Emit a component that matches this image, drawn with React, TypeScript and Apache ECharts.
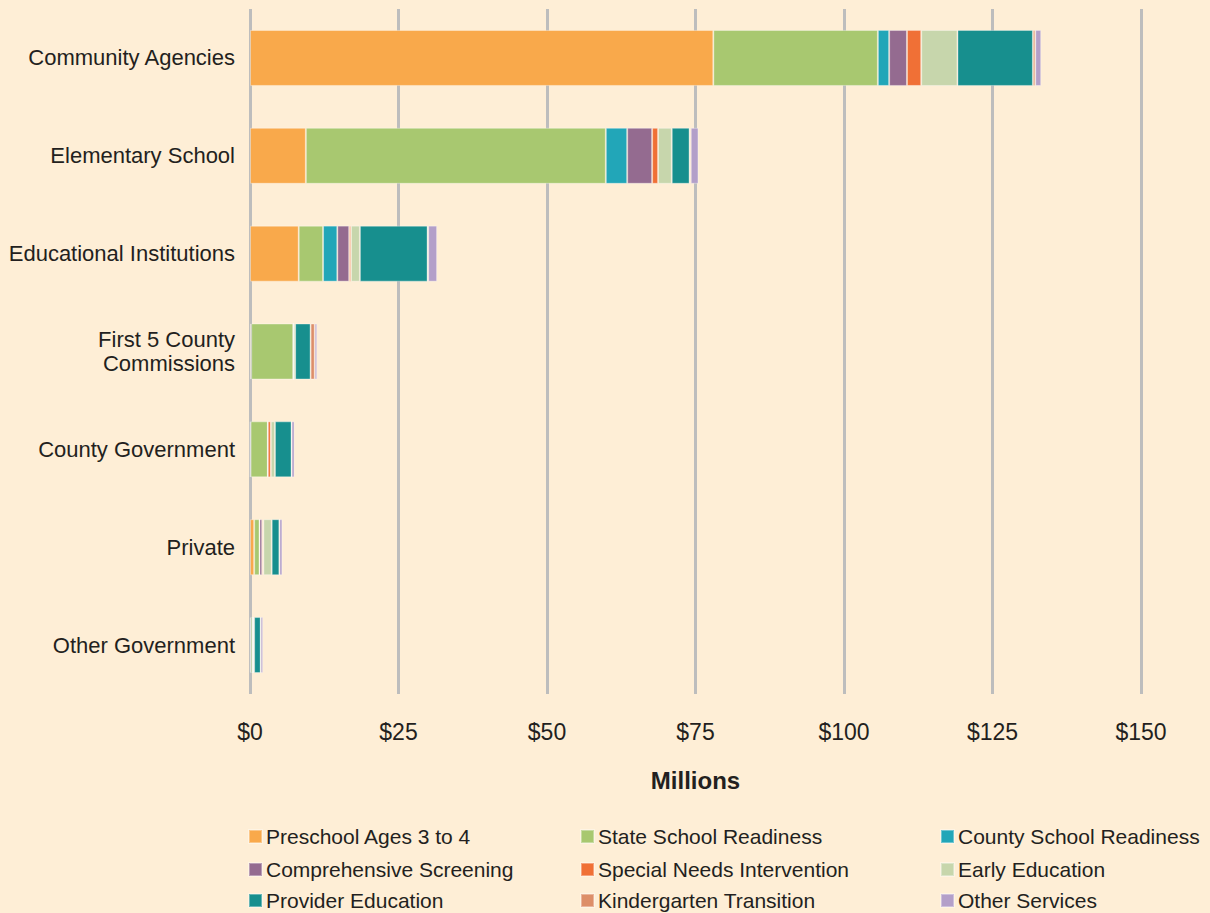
import React, { useEffect, useRef } from "react";
import * as echarts from "echarts";

const categories = [
  "Community Agencies",
  "Elementary School",
  "Educational Institutions",
  "First 5 County\nCommissions",
  "County Government",
  "Private",
  "Other Government",
];

const seriesNames = [
  "Preschool Ages 3 to 4",
  "State School Readiness",
  "County School Readiness",
  "Comprehensive Screening",
  "Special Needs Intervention",
  "Early Education",
  "Provider Education",
  "Kindergarten Transition",
  "Other Services",
];

const preschool = [78.0, 9.4, 8.2, 0.2, 0.1, 0.7, 0.15];
const stateReadiness = [27.7, 50.5, 4.1, 7.1, 2.9, 0.9, 0.35];
const countyReadiness = [1.9, 3.6, 2.4, 0, 0, 0, 0];
const screening = [3.0, 4.2, 2.0, 0, 0, 0.45, 0];
const specialNeeds = [2.4, 1.0, 0.3, 0, 0.5, 0.2, 0];
const earlyEducation = [6.1, 2.3, 1.5, 0.3, 0.7, 1.4, 0.2];
const providerEducation = [12.7, 3.0, 11.4, 2.6, 2.8, 1.3, 1.1];
const kindergarten = [0.4, 0.2, 0.1, 0.7, 0, 0, 0];
const otherServices = [1.0, 1.3, 1.5, 0.4, 0.5, 0.5, 0.4];

const seriesValues = [
  preschool,
  stateReadiness,
  countyReadiness,
  screening,
  specialNeeds,
  earlyEducation,
  providerEducation,
  kindergarten,
  otherServices,
];

const colors = [
  "#F9A94B",
  "#A8C870",
  "#22A6B8",
  "#946B90",
  "#F07036",
  "#C7D6AC",
  "#178F8E",
  "#DD8E68",
  "#B39FC9",
];

const xTicks = [0, 25, 50, 75, 100, 125, 150];

const FONT = "'Liberation Sans', Arial, Helvetica, sans-serif";

export default function App() {
  const ref = useRef<HTMLDivElement>(null);
  useEffect(() => {
    if (!ref.current) return;
    const chart = echarts.init(ref.current, null, { renderer: "svg" });
    const colLeft = [248, 580, 940];
    const rowTop = [826, 859, 890];
    const legends = seriesNames.map((name, i) => ({
      orient: "horizontal" as const,
      left: colLeft[i % 3],
      top: rowTop[Math.floor(i / 3)],
      padding: 0,
      itemWidth: 13,
      itemHeight: 13,
      itemGap: 0,
      icon: "rect",
      data: [name],
      textStyle: {
        fontFamily: FONT,
        fontSize: 21,
        color: "#231f20",
        padding: [0, 0, 0, -1],
      },
      selectedMode: false,
    }));
    chart.setOption({
      animation: false,
      backgroundColor: "#FEEED6",
      color: colors,
      grid: {
        left: 250,
        right: 69,
        top: 9,
        bottom: 219,
        containLabel: false,
        outerBoundsMode: "none",
      },
      legend: legends,
      xAxis: {
        type: "value",
        min: 0,
        max: 150,
        interval: 25,
        name: "Millions",
        nameLocation: "middle",
        nameGap: 74,
        nameTextStyle: {
          fontFamily: FONT,
          fontSize: 24,
          fontWeight: "bold",
          color: "#231f20",
        },
        axisLine: { show: false },
        axisTick: { show: false },
        axisLabel: {
          margin: 26,
          fontFamily: FONT,
          fontSize: 23,
          color: "#231f20",
          formatter: (v: number) => (xTicks.includes(v) ? "$" + v : ""),
        },
        splitLine: { show: true, lineStyle: { color: "#BDBDBD", width: 3 } },
      },
      yAxis: {
        type: "category",
        data: categories,
        inverse: true,
        axisLine: { show: false },
        axisTick: { show: false },
        splitLine: { show: false },
        axisLabel: {
          margin: 15,
          fontFamily: FONT,
          fontSize: 22,
          color: "#231f20",
          lineHeight: 24,
          align: "right",
        },
      },
      series: seriesNames.map((name, i) => ({
        name,
        type: "bar",
        stack: "total",
        barWidth: 56,
        data: seriesValues[i],
        itemStyle: {
          color: colors[i],
          borderColor: "rgba(255,255,255,0.35)",
          borderWidth: 1,
        },
      })),
    });
    return () => chart.dispose();
  }, []);
  return (
    <div
      ref={ref}
      style={{ position: "fixed", left: 0, top: 0, width: 1210, height: 913 }}
    />
  );
}
